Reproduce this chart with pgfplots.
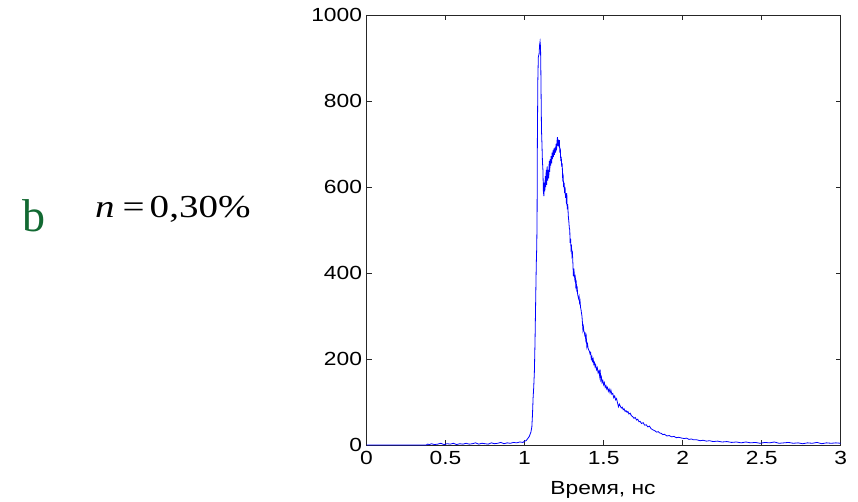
\documentclass[border=0pt]{standalone}
\usepackage{pgfplots}
\pgfplotsset{compat=1.18}
\usepackage{fontspec}
\setmainfont{Liberation Sans}
\newfontfamily\axfont[FakeStretch=1.2]{Liberation Sans}
\newfontfamily\serfont[FakeStretch=1.22]{Liberation Serif}
\newfontfamily\bfont{Liberation Serif}
\definecolor{dkgreen}{RGB}{18,105,50}
\pgfplotstableread{
x y
0 0
0.38 0
0.385 2
0.40 1
0.41 3
0.43 1
0.45 2
0.47 4
0.49 1
0.51 3
0.53 2
0.55 4
0.57 1
0.59 3
0.61 2
0.63 4
0.65 2
0.67 3
0.69 5
0.71 2
0.73 4
0.75 3
0.77 2
0.79 5
0.81 3
0.83 4
0.85 6
0.87 3
0.89 5
0.91 4
0.93 6
0.95 5
0.97 7
0.99 6
1.00 9
1.01 10
1.02 15
1.03 20
1.04 30
1.046 42
1.05 70
1.054 110
1.058 135
1.062 170
1.066 238
1.07 330
1.074 420
1.077 460
1.079 520
1.081 707
1.084 850
1.087 902
1.092 910
1.095 930
1.098 938
1.101 925
1.103 870
1.105 800
1.107 734
1.110 700
1.113 660
1.116 640
1.119 590
1.122 579
1.125 610
1.128 590
1.131 625
1.134 600
1.137 640
1.140 605
1.143 648
1.146 615
1.150 640
1.153 620
1.156 660
1.159 635
1.162 665
1.165 650
1.168 672
1.171 655
1.174 680
1.177 665
1.180 685
1.183 670
1.186 690
1.189 675
1.193 692
1.196 680
1.199 700
1.202 685
1.205 705
1.208 716
1.211 695
1.214 710
1.217 700
1.220 709
1.223 680
1.226 690
1.229 660
1.232 670
1.235 647
1.238 655
1.241 620
1.244 625
1.247 600
1.250 610
1.253 586
1.256 600
1.259 575
1.262 585
1.265 560
1.267 586
1.270 548
1.273 560
1.277 531
1.280 520
1.283 505
1.286 500
1.288 470
1.291 480
1.294 455
1.297 460
1.300 440
1.303 445
1.306 420
1.309 392
1.312 410
1.315 395
1.318 385
1.321 390
1.324 370
1.327 377
1.330 361
1.333 365
1.336 350
1.339 345
1.342 340
1.345 345
1.348 331
1.351 335
1.354 320
1.357 315
1.360 307
1.363 300
1.366 285
1.369 268
1.372 275
1.375 265
1.378 262
1.381 255
1.384 258
1.387 245
1.390 252
1.394 228
1.398 235
1.402 225
1.406 221
1.410 218
1.414 212
1.418 215
1.422 200
1.426 205
1.430 195
1.434 200
1.438 188
1.442 192
1.446 182
1.450 186
1.455 175
1.460 180
1.465 168
1.470 172
1.475 160
1.478 175
1.482 152
1.486 158
1.490 145
1.495 150
1.500 140
1.505 145
1.510 134
1.515 138
1.520 130
1.525 134
1.530 125
1.535 130
1.541 121
1.546 128
1.552 118
1.558 120
1.564 110
1.570 114
1.576 105
1.582 108
1.588 98
1.594 89
1.600 95
1.606 90
1.612 86
1.618 88
1.624 82
1.630 84
1.636 78
1.642 80
1.648 76
1.654 78
1.660 72
1.668 74
1.676 68
1.684 66
1.692 62
1.700 64
1.708 58
1.716 60
1.724 54
1.731 55
1.740 50
1.750 52
1.760 46
1.770 47
1.780 42
1.790 44
1.800 38
1.813 35
1.825 33
1.835 30
1.845 31
1.855 28
1.865 27
1.875 24
1.885 25
1.900 21
1.915 22
1.930 19
1.945 20
1.960 17
1.975 18
1.995 16
2.010 15
2.025 16
2.040 13
2.055 14
2.070 12
2.090 12
2.110 10
2.130 11
2.150 9
2.170 10
2.193 8
2.22 9
2.25 7
2.28 8
2.31 6
2.34 7
2.37 5
2.40 7
2.43 5
2.46 6
2.49 4
2.52 6
2.55 5
2.58 7
2.61 4
2.64 5
2.67 6
2.70 4
2.73 5
2.76 3
2.79 5
2.82 4
2.85 6
2.88 3
2.91 5
2.94 4
2.97 5
3.00 4
}\datatable
\begin{document}
\begin{tikzpicture}[x=1pt,y=1pt]
\useasboundingbox (0,0) rectangle (858,501);
\begin{axis}[
  at={(366.5pt,56pt)}, anchor=south west,
  scale only axis, width=474.2pt, height=430pt,
  xmin=0, xmax=3, ymin=0, ymax=1000,
  xtick={0,0.5,1,1.5,2,2.5,3},
  xticklabels={0,0.5,1,1.5,2,2.5,3},
  ytick={0,200,400,600,800,1000},
  yticklabels={0,200,400,600,800,1000},
  tick align=inside, tick pos=both,
  major tick length=5pt,
  axis line style={black!85, line width=0.8pt},
  every tick/.style={black!85, line width=0.7pt},
  ticklabel style={font=\axfont\fontsize{19}{19}\selectfont, text=black},
  xticklabel style={yshift=-3pt},
  yticklabel style={xshift=-1pt},
  /pgf/number format/assume math mode=true,
  clip=true,
]
\addplot[color={rgb,255:red,0;green,0;blue,255}, line width=0.8pt, mark=none] table[x=x,y=y] {\datatable};
\end{axis}
\node[anchor=base, font=\axfont\fontsize{19}{19}\selectfont] at (603,6.4) {Время, нс};
\node[anchor=base west, inner sep=0pt, text=dkgreen, font=\bfont\fontsize{46}{46}\selectfont] at (22,269.3) {b};
\node[anchor=base west, inner sep=0pt, font=\serfont\fontsize{32}{32}\selectfont] at (95,283) {\itshape n\upshape\hspace{8pt}=\hspace{5pt}0,30\%};
\end{tikzpicture}
\end{document}
